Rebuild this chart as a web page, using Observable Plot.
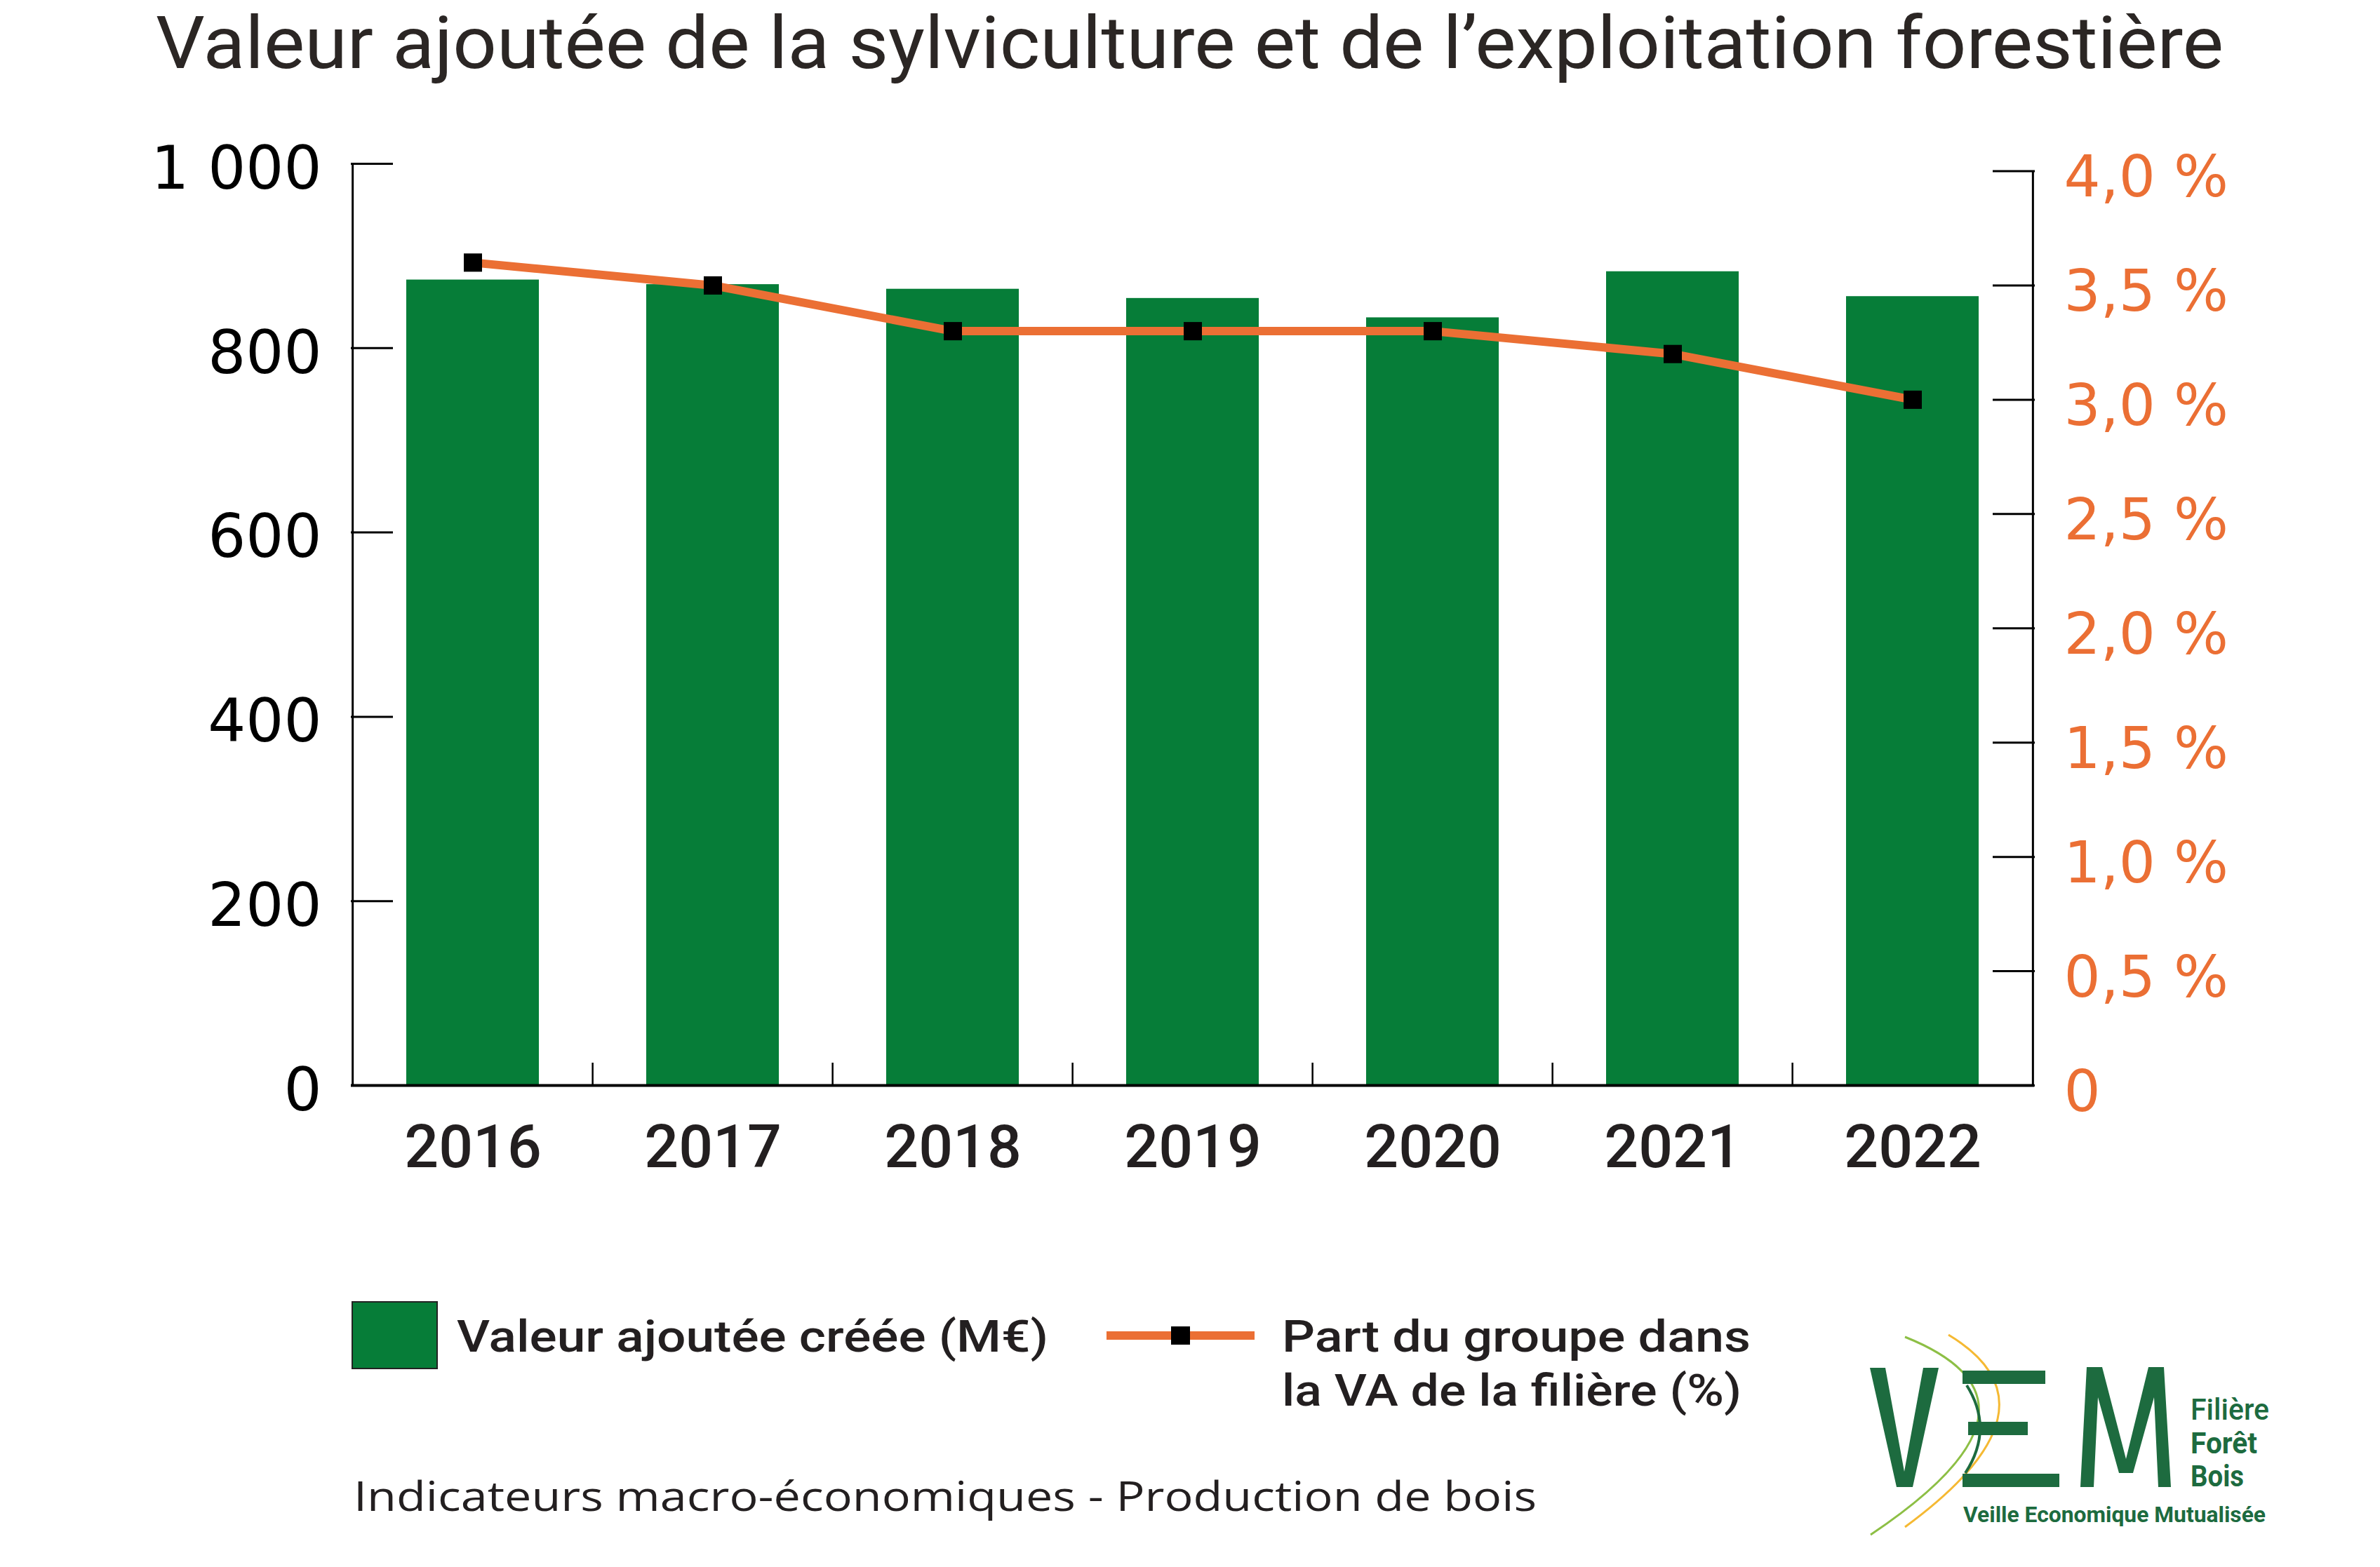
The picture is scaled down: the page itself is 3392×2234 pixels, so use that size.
<!DOCTYPE html>
<html>
<head>
<meta charset="utf-8">
<script src="https://cdn.jsdelivr.net/npm/d3@7"></script>
<script src="https://cdn.jsdelivr.net/npm/@observablehq/plot@0.6"></script>
<style>
  html, body { margin: 0; padding: 0; background: #fff; }
  #page { width: 3392px; height: 2234px; overflow: hidden; background: #fff; }
  svg { display: block; }
</style>
</head>
<body>
<div id="page">
  <svg id="title" width="3392" height="130">
    <text x="222" y="97" font-family="Roboto" font-size="104" fill="#2b2624"
      textLength="2947" lengthAdjust="spacingAndGlyphs">Valeur ajoutée de la sylviculture et de l’exploitation forestière</text>
  </svg>
  <div id="chart"></div>
  <svg id="footer" width="3392" height="517">
    <!-- legend 1 -->
    <rect x="502" y="139" width="121" height="95" fill="#067d38" stroke="#222" stroke-width="2"></rect>
    <text x="651" y="210" font-family="Roboto" font-weight="500" font-size="63" fill="#231f20"
      textLength="843" lengthAdjust="spacingAndGlyphs">Valeur ajoutée créée (M€)</text>
    <!-- legend 2 -->
    <line x1="1577" x2="1788" y1="187" y2="187" stroke="#eb6f34" stroke-width="12"></line>
    <rect x="1669" y="174" width="27" height="26" fill="#000"></rect>
    <text x="1827" y="210" font-family="Roboto" font-weight="500" font-size="63" fill="#231f20"
      textLength="668" lengthAdjust="spacingAndGlyphs">Part du groupe dans</text>
    <text x="1827" y="287" font-family="Roboto" font-weight="500" font-size="63" fill="#231f20"
      textLength="655" lengthAdjust="spacingAndGlyphs">la VA de la filière (%)</text>
    <!-- caption -->
    <text x="504" y="437" font-family="Open Sans" font-size="59" fill="#231f20"
      textLength="1686" lengthAdjust="spacingAndGlyphs">Indicateurs macro-économiques - Production de bois</text>
    <!-- logo -->
    <g transform="translate(0,-1717)">
      <path d="M2715,1906 Q2948,1999 2666,2188" fill="none" stroke="#8dbf45" stroke-width="3"></path>
      <path d="M2777,1903 Q2948,2006 2715,2177" fill="none" stroke="#f5b933" stroke-width="3"></path>
      <path d="M2803,1975 Q2842,2037 2801,2100" fill="none" stroke="#1d6b3f" stroke-width="4"></path>
      <path d="M2665,1950 L2687,1950 L2714,2098 L2741,1950 L2763,1950 L2726,2120 L2703,2120 Z" fill="#1d6b3f"></path>
      <rect x="2797" y="1954" width="118" height="19" fill="#1d6b3f"></rect>
      <rect x="2805" y="2027" width="85" height="19" fill="#1d6b3f"></rect>
      <rect x="2797" y="2101" width="138" height="19" fill="#1d6b3f"></rect>
      <path d="M2965,2120 L2974,1949 L2996,1949 L3030,2080 L3062,1949 L3084,1949 L3094,2120 L3076,2120 L3070,1992 L3040,2100 L3020,2100 L2990,1992 L2984,2120 Z" fill="#1d6b3f"></path>
      <text x="3122" y="2024" font-family="Roboto" font-weight="500" font-size="43" fill="#1d6b3f" textLength="112" lengthAdjust="spacingAndGlyphs">Filière</text>
      <text x="3122" y="2072" font-family="Roboto" font-weight="700" font-size="43" fill="#1d6b3f" textLength="95" lengthAdjust="spacingAndGlyphs">Forêt</text>
      <text x="3122" y="2119" font-family="Roboto" font-weight="700" font-size="43" fill="#1d6b3f" textLength="76" lengthAdjust="spacingAndGlyphs">Bois</text>
      <text x="2798" y="2170" font-family="Roboto" font-weight="700" font-size="32" fill="#1d6b3f" textLength="431" lengthAdjust="spacingAndGlyphs">Veille Economique Mutualisée</text>
    </g>
  </svg>
</div>
<script>
// ---- data ----
const years = ["2016", "2017", "2018", "2019", "2020", "2021", "2022"];
const valeurAjoutee = [874, 869, 864, 854, 833, 883, 856];     // M€
const partVA = [3.6, 3.5, 3.3, 3.3, 3.3, 3.2, 3.0];             // %
const leftTicks = [0, 200, 400, 600, 800, 1000];
const leftTickLabels = ["0", "200", "400", "600", "800", "1 000"];
const rightTicks = [0, 0.5, 1, 1.5, 2, 2.5, 3, 3.5, 4];
const rightTickLabels = ["0", "0,5 %", "1,0 %", "1,5 %", "2,0 %", "2,5 %", "3,0 %", "3,5 %", "4,0 %"];

// ---- styles ----
const GREEN = "#067d38";
const ORANGE = "#eb6f34";
const K = 248; // right-axis (%) to left-axis units

const rows = years.map((y, i) => ({year: y, va: valeurAjoutee[i], part: partVA[i]}));

const W = 3392, H = 1587, mT = 103, mB = 170, mL = 500, mR = 493;
const step = (W - mL - mR) / years.length;
const pxPerUnit = (H - mT - mB) / 1000;

const chart = Plot.plot({
  width: W, height: H,
  marginTop: mT, marginBottom: mB, marginLeft: mL, marginRight: mR,
  style: {background: "white", color: "#000", fontFamily: "DejaVu Sans"},
  x: {type: "band", domain: years, paddingInner: 0.446, paddingOuter: 0.223, align: 0.5},
  y: {domain: [0, 1000], nice: false},
  marks: [
    Plot.barY(rows, {x: "year", y: "va", fill: GREEN}),
    Plot.ruleX(years.slice(1), {x: d => d, dx: -step / 2, y1: 0, y2: 32 / pxPerUnit, stroke: "#000", strokeWidth: 2.5}),
    Plot.ruleX([years[0]], {x: d => d, dx: -step / 2, y1: 0, y2: 1000, stroke: "#000", strokeWidth: 3}),
    Plot.ruleX([years[years.length - 1]], {x: d => d, dx: step / 2, y1: 0, y2: 4 * K, stroke: "#000", strokeWidth: 3}),
    Plot.ruleY([0], {stroke: "#000", strokeWidth: 4}),
    Plot.axisY(leftTicks, {anchor: "left", tickSize: -60, fill: "none", stroke: "#000", strokeWidth: 3, label: null}),
    Plot.axisY(leftTicks, {anchor: "left", tickSize: 0, tickPadding: 42, label: null,
      tickFormat: d => leftTickLabels[leftTicks.indexOf(d)], fontSize: 85, fontFamily: "DejaVu Sans", dy: 8, fill: "#000"}),
    Plot.axisY(rightTicks.map(p => p * K), {anchor: "right", tickSize: -60, fill: "none", stroke: "#000", strokeWidth: 3, label: null}),
    Plot.axisY(rightTicks.map(p => p * K), {anchor: "right", tickSize: 0, tickPadding: 42, label: null,
      tickFormat: d => rightTickLabels[Math.round(d / K * 2)], fontSize: 82, fontFamily: "DejaVu Sans", dy: 10, fill: ORANGE}),
    Plot.axisX({anchor: "bottom", tickSize: 0, tickPadding: 55, label: null, fontSize: 86, fontFamily: "Roboto", fontWeight: 500, fill: "#231f20"}),
    Plot.line(rows, {x: "year", y: d => d.part * K, stroke: ORANGE, strokeWidth: 12}),
    Plot.dot(rows, {x: "year", y: d => d.part * K, symbol: "square", r: 14.7, fill: "#000", stroke: "none"})
  ]
});
document.getElementById("chart").appendChild(chart);
</script>
</body>
</html>
